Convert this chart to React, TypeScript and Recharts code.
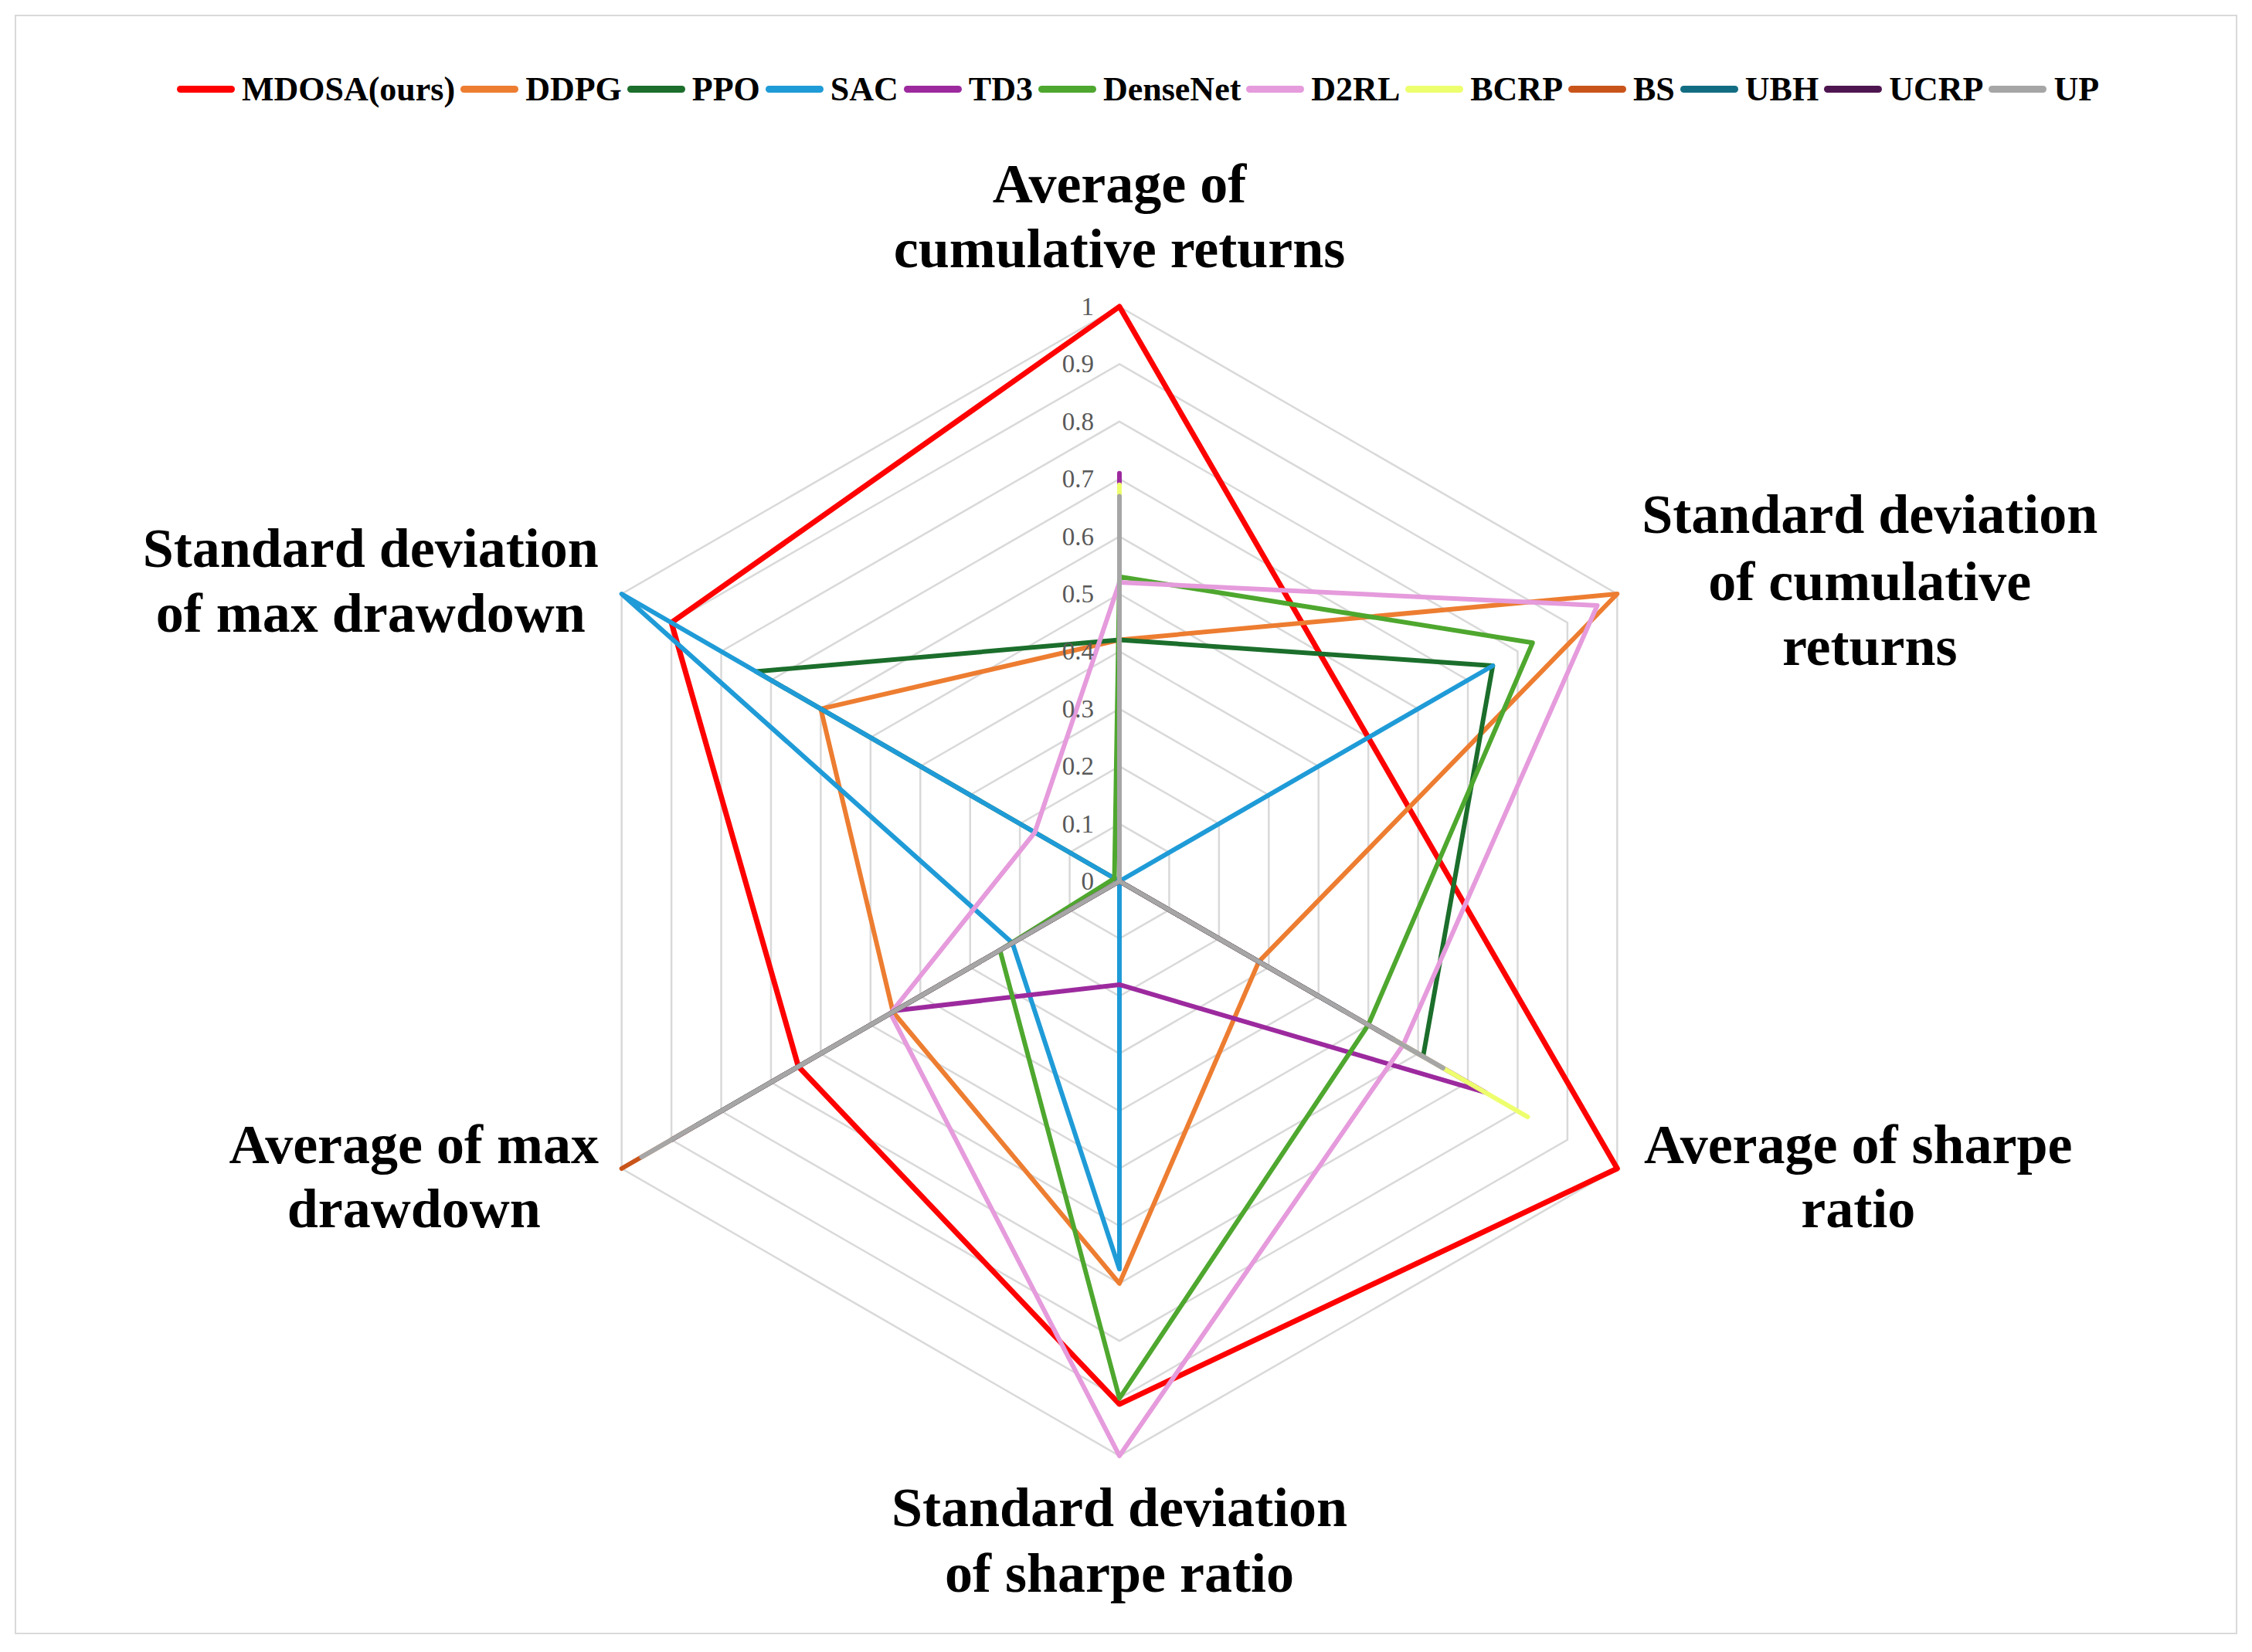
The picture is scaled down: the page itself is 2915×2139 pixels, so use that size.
import React from "react";
import {
  RadarChart,
  Radar,
  PolarGrid,
  PolarAngleAxis,
  PolarRadiusAxis,
  Legend,
} from "recharts";

const SERIF = '"Liberation Serif", "Times New Roman", serif';

// axes, clockwise from the top
const METRICS = [
  "Average of cumulative returns",
  "Standard deviation of cumulative returns",
  "Average of sharpe ratio",
  "Standard deviation of sharpe ratio",
  "Average of max drawdown",
  "Standard deviation of max drawdown",
];

const METRIC_LINES = [
  ["Average of", "cumulative returns"],
  ["Standard deviation", "of cumulative", "returns"],
  ["Average of sharpe", "ratio"],
  ["Standard deviation", "of sharpe ratio"],
  ["Average of max", "drawdown"],
  ["Standard deviation", "of max drawdown"],
];

const RADIUS_TICKS = [0, 0.1, 0.2, 0.3, 0.4, 0.5, 0.6, 0.7, 0.8, 0.9, 1];

const SERIES_NAMES = [
  "MDOSA(ours)",
  "DDPG",
  "PPO",
  "SAC",
  "TD3",
  "DenseNet",
  "D2RL",
  "BCRP",
  "BS",
  "UBH",
  "UCRP",
  "UP",
];

const SERIES_COLORS = [
  "#ff0000",
  "#ed7d31",
  "#1b6e2b",
  "#1f9bd7",
  "#9c2a9e",
  "#4ea72e",
  "#e59bdc",
  "#eeff6e",
  "#c9541a",
  "#126d82",
  "#4e1650",
  "#a6a6a6",
];

// normalised scores, one value per metric (same order as METRICS)
const MDOSA = [1.0, 0.5, 1.0, 0.91, 0.645, 0.9];
const DDPG = [0.42, 1.0, 0.28, 0.7, 0.455, 0.6];
const PPO = [0.42, 0.75, 0.61, 0, 0, 0.73];
const SAC = [0, 0.75, 0, 0.675, 0.215, 1.0];
const TD3 = [0.71, 0, 0.735, 0.18, 0.45, 0];
const DENSENET = [0.53, 0.83, 0.5, 0.9, 0.24, 0.01];
const D2RL = [0.52, 0.96, 0.57, 1.0, 0.46, 0.17];
const BCRP = [0.69, 0, 0.82, 0, 0.9, 0];
const BS = [0.5, 0, 0.4, 0, 1.0, 0];
const UBH = [0.55, 0, 0.45, 0, 0.85, 0];
const UCRP = [0.6, 0, 0.55, 0, 0.9, 0];
const UP = [0.67, 0, 0.65, 0, 0.96, 0];

const SERIES_VALUES = [MDOSA, DDPG, PPO, SAC, TD3, DENSENET, D2RL, BCRP, BS, UBH, UCRP, UP];

const data = METRICS.map((metric, i) => {
  const row: Record<string, string | number> = { metric };
  SERIES_VALUES.forEach((vals, s) => {
    row[`s${s}`] = vals[i];
  });
  return row;
});

// label placement relative to the tick point of each angle axis tick
const LABEL_OFFSETS = [
  { dx: 0, dy: [-151, -67] },
  { dx: 320, dy: [-99, -12, 72] },
  { dx: 305, dy: [-35, 48] },
  { dx: 0, dy: [59, 144] },
  { dx: -262, dy: [-35, 48] },
  { dx: -318, dy: [-55, 29] },
];

function AngleTick(props: any) {
  const { x, y, index } = props;
  const lines = METRIC_LINES[index] ?? [String(props.payload?.value)];
  const off = LABEL_OFFSETS[index] ?? { dx: 0, dy: lines.map((_, i) => i * 84) };
  return (
    <g>
      {lines.map((line, i) => (
        <text
          key={i}
          x={x + off.dx}
          y={y + off.dy[i]}
          textAnchor="middle"
          dominantBaseline="central"
          fontFamily={SERIF}
          fontWeight="bold"
          fontSize={72}
          fill="#000"
        >
          {line}
        </text>
      ))}
    </g>
  );
}

function RadiusTick(props: any) {
  const { x, y, payload } = props;
  const v = Number(Number(payload.value).toFixed(1));
  return (
    <text
      x={x - 33}
      y={y}
      textAnchor="end"
      dominantBaseline="central"
      fontFamily={SERIF}
      fontSize={33}
      fill="#595959"
    >
      {String(v)}
    </text>
  );
}

function LegendContent() {
  return (
    <div
      style={{
        display: "flex",
        justifyContent: "center",
        alignItems: "center",
        fontFamily: SERIF,
        fontWeight: "bold",
        fontSize: 44,
        color: "#000",
      }}
    >
      {SERIES_NAMES.map((name, i) => (
        <div key={name} style={{ display: "flex", alignItems: "center", marginRight: 7 }}>
          <span
            style={{
              display: "inline-block",
              width: 75,
              height: 9,
              borderRadius: 5,
              background: SERIES_COLORS[i],
              marginRight: 9,
            }}
          />
          <span>{name}</span>
        </div>
      ))}
    </div>
  );
}

export default function App() {
  return (
    <div style={{ position: "relative", width: 2899, height: 2123, background: "#fff" }}>
      <div
        style={{
          position: "absolute",
          left: 11,
          top: 11,
          width: 2877,
          height: 2097,
          border: "2px solid #d9d9d9",
          boxSizing: "border-box",
        }}
      />
      <RadarChart
        width={2899}
        height={2123}
        data={data}
        cx={1441}
        cy={1133}
        outerRadius={744}
        startAngle={90}
        endAngle={-270}
        margin={{ top: 0, right: 0, bottom: 0, left: 0 }}
      >
        <PolarGrid gridType="polygon" radialLines={false} stroke="#d9d9d9" strokeWidth={2.5} />
        <PolarAngleAxis
          dataKey="metric"
          tick={AngleTick}
          tickLine={false}
          axisLine={false}
        />
        <PolarRadiusAxis
          angle={90}
          type="number"
          scale="linear"
          domain={[0, 1]}
          ticks={RADIUS_TICKS}
          tickCount={11}
          axisLine={false}
          tickLine={false}
          tick={RadiusTick}
        />
        {SERIES_NAMES.map((name, i) => (
          <Radar
            key={name}
            name={name}
            dataKey={`s${i}`}
            stroke={SERIES_COLORS[i]}
            strokeWidth={i === 0 ? 7 : 6}
            strokeLinejoin="round"
            fill="none"
            fillOpacity={0}
            dot={false}
            isAnimationActive={false}
          />
        ))}
        <Legend
          verticalAlign="top"
          content={LegendContent}
          wrapperStyle={{ top: 82, left: 19, width: 2899 }}
        />
      </RadarChart>
    </div>
  );
}
